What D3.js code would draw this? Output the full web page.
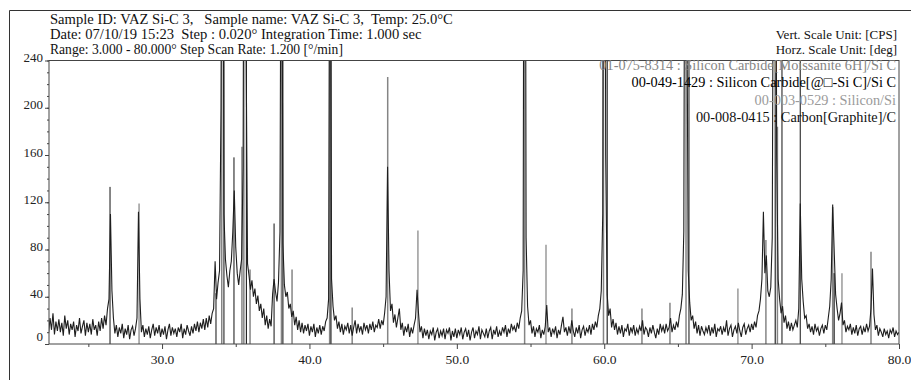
<!DOCTYPE html>
<html>
<head>
<meta charset="utf-8">
<script src="https://cdn.jsdelivr.net/npm/d3@7"></script>
<style>
  body { margin: 0; background: #fff; }
  svg { display: block; font-family: "Liberation Serif", "Times New Roman", serif; }
  text { font-family: "Liberation Serif", "Times New Roman", serif; white-space: pre; }
</style>
</head>
<body>
<svg id="chart" width="911" height="380"></svg>
<script>
// measured scan, counts per 0.1 deg step starting at 22.3 deg
const scanStart = 22.3;
const scanStep = 0.1;
const counts = [
  9, 22, 12, 26, 8, 19, 11,                      // 22.3
  21, 10, 18, 7, 24, 13, 20, 8, 17, 12,          // 23
  19, 6, 16, 11, 22, 9, 15, 20, 7, 18,           // 24
  10, 17, 8, 21, 12, 16, 7, 19, 11, 22,          // 25
  13, 24, 16, 30, 38, 110, 45, 22, 9, 16,        // 26
  6, 14, 9, 17, 5, 13, 8, 16, 4, 12,             // 27
  15, 7, 13, 22, 112, 38, 10, 16, 6, 13,         // 28
  8, 15, 5, 12, 17, 7, 14, 9, 16, 6,             // 29
  13, 8, 15, 4, 12, 17, 7, 14, 9, 13,            // 30
  6, 14, 10, 17, 5, 13, 8, 16, 11, 7,            // 31
  15, 9, 17, 11, 19, 10, 18, 13, 21, 12,         // 32
  22, 14, 24, 17, 26, 30, 70, 38, 52, 62,        // 33
  200, 600, 110, 72, 58, 48, 62, 70, 95, 130,    // 34
  82, 60, 50, 62, 72, 150, 700, 260, 68, 58,     // 35
  46, 54, 40, 47, 34, 41, 28, 34, 22, 30,        // 36
  16, 24, 13, 21, 15, 42, 55, 44, 36, 52,        // 37
  95, 500, 85, 50, 40, 44, 30, 34, 23, 28,       // 38
  16, 23, 12, 20, 10, 18, 9, 16, 11, 17,         // 39
  7, 15, 10, 17, 6, 14, 9, 16, 8, 15,            // 40
  11, 19, 22, 38, 500, 55, 32, 20, 24, 13,       // 41
  19, 10, 17, 8, 15, 12, 18, 9, 16, 7,           // 42
  14, 20, 9, 17, 11, 15, 8, 18, 12, 16,          // 43
  9, 17, 12, 19, 10, 16, 14, 21, 13, 20,         // 44
  16, 26, 40, 150, 62, 28, 34, 18, 25, 14,       // 45
  22, 30, 12, 18, 7, 15, 10, 17, 6, 14,          // 46
  9, 16, 22, 46, 26, 10, 15, 5, 13, 7,           // 47
  12, 4, 11, 8, 14, 3, 10, 13, 5, 11,            // 48
  7, 13, 4, 12, 9, 14, 3, 11, 6, 13,             // 49
  5, 12, 8, 14, 4, 10, 13, 6, 12, 3,             // 50
  10, 14, 5, 11, 8, 15, 4, 12, 9, 6,             // 51
  13, 5, 11, 14, 4, 12, 8, 15, 6, 11,            // 52
  7, 14, 10, 16, 6, 13, 9, 17, 12, 15,           // 53
  10, 18, 13, 22, 28, 62, 800, 90, 32, 16,       // 54
  20, 9, 15, 6, 13, 10, 16, 5, 12, 8,            // 55
  15, 33, 10, 14, 6, 13, 9, 15, 5, 12,           // 56
  8, 16, 23, 10, 14, 7, 15, 9, 20, 11,           // 57
  6, 14, 9, 16, 5, 12, 15, 7, 13, 10,            // 58
  16, 8, 17, 12, 19, 14, 24, 30, 45, 110,        // 59
  900, 160, 42, 24, 30, 14, 21, 12, 18, 8,       // 60
  15, 9, 16, 6, 13, 11, 17, 7, 14, 10,           // 61
  16, 7, 13, 9, 15, 11, 20, 8, 14, 12,           // 62
  6, 14, 9, 16, 10, 5, 13, 8, 17, 11,            // 63
  15, 9, 17, 11, 14, 22, 10, 16, 12, 19,         // 64
  14, 24, 30, 42, 95, 600, 320, 62, 35, 20,      // 65
  24, 13, 19, 9, 16, 7, 15, 11, 8, 14,           // 66
  10, 16, 7, 14, 9, 17, 6, 13, 11, 15,           // 67
  8, 14, 10, 20, 7, 13, 16, 6, 12, 15,           // 68
  9, 18, 11, 6, 14, 17, 8, 13, 16, 10,           // 69
  17, 12, 19, 14, 24, 28, 38, 55, 112, 60,       // 70
  75, 45, 40, 48, 90, 450, 650, 160, 55, 38,     // 71
  26, 32, 18, 24, 13, 19, 11, 18, 12, 16,        // 72
  20, 14, 30, 119, 55, 36, 22, 24, 13, 17,       // 73
  10, 15, 8, 17, 11, 14, 7, 13, 16, 9,           // 74
  16, 12, 22, 32, 55, 118, 80, 42, 30, 20,       // 75
  26, 35, 16, 20, 10, 15, 12, 17, 8, 14,         // 76
  9, 16, 7, 13, 15, 8, 14, 10, 17, 11,           // 77
  15, 30, 64, 25, 12, 16, 7, 13, 10, 6,          // 78
  13, 8, 11, 5, 12, 9, 14, 6, 11, 8,             // 79
  10                                             // 80
];

// reference card sticks [2theta, height in CPS units]
const moissanite6H = [[34.05, 999], [35.42, 167], [35.55, 999], [35.97, 63], [38.1, 999], [38.82, 63],
  [41.37, 999], [42.9, 31], [45.31, 226], [54.6, 999], [57.81, 30], [59.95, 999], [62.56, 30],
  [64.46, 35], [65.55, 999], [70.97, 88], [71.75, 184], [75.5, 116], [78.1, 78]];
const betaSiC = [[35.72, 999], [41.46, 999], [60.2, 999], [71.6, 999], [75.6, 60]];
const silicon = [[28.44, 119], [47.36, 96], [56.05, 84], [69.07, 47], [76.13, 60]];
const graphite = [[26.47, 133], [33.66, 43], [34.2, 999], [34.88, 158], [37.6, 102], [38.2, 999],
  [65.75, 999], [72.06, 999], [73.3, 999]];

const phaseLabels = [
  "01-075-8314 : Silicon Carbide[Moissanite 6H]/Si C",
  "00-049-1429 : Silicon Carbide[@\u25A1-Si C]/Si C",
  "00-003-0529 : Silicon/Si",
  "00-008-0415 : Carbon[Graphite]/C"
];
const phaseColors = ["#858585", "#000000", "#9a9a9a", "#111111"];

const headerLeft = [
  "Sample ID: VAZ Si-C 3,   Sample name: VAZ Si-C 3,  Temp: 25.0\u00B0C",
  "Date: 07/10/19 15:23  Step : 0.020\u00B0 Integration Time: 1.000 sec",
  "Range: 3.000 - 80.000\u00B0 Step Scan Rate: 1.200 [\u00B0/min]"
];
const headerSizes = [14.6, 14.6, 13.6];
const headerRight = ["Vert. Scale Unit: [CPS]", "Horz. Scale Unit: [deg]"];

const xTicks = [30, 40, 50, 60, 70, 80];
const xMinorTicks = [25, 35, 45, 55, 65, 75];
const yTicks = [0, 40, 80, 120, 160, 200, 240];
const yMinorTicks = d3.range(0, 241, 10);

const W = 911, H = 380;
const plot = { left: 49, right: 899, top: 60.5, bottom: 344 };
const FONT = '"Liberation Serif", "Times New Roman", serif';

const svg = d3.select("#chart");

// outer frame (top and left edges visible)
svg.append("path")
  .attr("d", `M9.5,${H} V10.5 H${W}`)
  .attr("fill", "none").attr("stroke", "#333").attr("stroke-width", 1);

const x = d3.scaleLinear().domain([22.33, 80]).range([plot.left, plot.right]);
const y = d3.scaleLinear().domain([0, 240]).range([plot.bottom, plot.top]);

svg.append("clipPath").attr("id", "clip")
  .append("rect")
  .attr("x", plot.left).attr("y", plot.top)
  .attr("width", plot.right - plot.left).attr("height", plot.bottom - plot.top);

const sticksG = svg.append("g").attr("clip-path", "url(#clip)");
[moissanite6H, betaSiC, silicon, graphite].forEach((card, i) => {
  sticksG.append("g")
    .attr("stroke", phaseColors[i])
    .attr("stroke-width", i === 0 || i === 2 ? 1.5 : 1)
    .selectAll("line")
    .data(card)
    .join("line")
    .attr("x1", d => x(d[0])).attr("x2", d => x(d[0]))
    .attr("y1", y(0)).attr("y2", d => y(d[1]));
});

const scan = counts.map((c, i) => [scanStart + i * scanStep, c]);
svg.append("path")
  .datum(scan)
  .attr("clip-path", "url(#clip)")
  .attr("fill", "none")
  .attr("stroke", "#1e1e1e")
  .attr("stroke-width", 1.1)
  .attr("d", d3.line().x(d => x(d[0])).y(d => y(d[1])));

// plot frame
svg.append("rect")
  .attr("x", plot.left).attr("y", plot.top)
  .attr("width", plot.right - plot.left).attr("height", plot.bottom - plot.top)
  .attr("fill", "none").attr("stroke", "#444").attr("stroke-width", 1);

// x axis
const xAxisG = svg.append("g").attr("transform", `translate(0,${plot.bottom})`)
  .call(d3.axisBottom(x).tickValues(xTicks).tickSize(5).tickSizeOuter(0).tickPadding(5)
    .tickFormat(d => d.toFixed(1)));
xAxisG.attr("font-family", FONT);
xAxisG.select(".domain").remove();
xAxisG.selectAll("text").attr("font-size", 13.5).attr("fill", "#222");
xAxisG.selectAll("line").attr("stroke", "#444");
const xMinorG = svg.append("g").attr("transform", `translate(0,${plot.bottom})`)
  .call(d3.axisBottom(x).tickValues(xMinorTicks).tickSize(3).tickFormat(""));
xMinorG.select(".domain").remove();
xMinorG.selectAll("line").attr("stroke", "#444");

// y axis
const yMinorG = svg.append("g").attr("transform", `translate(${plot.left},0)`)
  .call(d3.axisLeft(y).tickValues(yMinorTicks).tickSize(2).tickFormat(""));
yMinorG.select(".domain").remove();
yMinorG.selectAll("line").attr("stroke", "#444");
const yAxisG = svg.append("g").attr("transform", `translate(${plot.left},0)`)
  .call(d3.axisLeft(y).tickValues(yTicks).tickSize(4).tickPadding(2));
yAxisG.attr("font-family", FONT);
yAxisG.select(".domain").remove();
yAxisG.selectAll("line").attr("stroke", "#444");
yAxisG.selectAll("text")
  .attr("font-size", 13).attr("fill", "#222")
  .attr("dy", d => d === 0 ? "-0.25em" : "0.08em");

// header text
const header = svg.append("g").attr("font-family", FONT).attr("fill", "#111");
header.selectAll("text.hl").data(headerLeft).join("text")
  .attr("class", "hl")
  .attr("xml:space", "preserve")
  .attr("x", 50).attr("y", (d, i) => 24 + i * 15)
  .attr("font-size", (d, i) => headerSizes[i])
  .text(d => d);
header.selectAll("text.hr").data(headerRight).join("text")
  .attr("class", "hr")
  .attr("x", 897).attr("y", (d, i) => 39 + i * 15)
  .attr("font-size", 13)
  .attr("text-anchor", "end")
  .text(d => d);

// phase legend
svg.append("g").attr("font-family", FONT).attr("font-size", 14.3).attr("text-anchor", "end")
  .selectAll("text").data(phaseLabels).join("text")
  .attr("x", 896).attr("y", (d, i) => 70 + i * 17.3)
  .attr("fill", (d, i) => phaseColors[i])
  .text(d => d);
</script>
</body>
</html>
